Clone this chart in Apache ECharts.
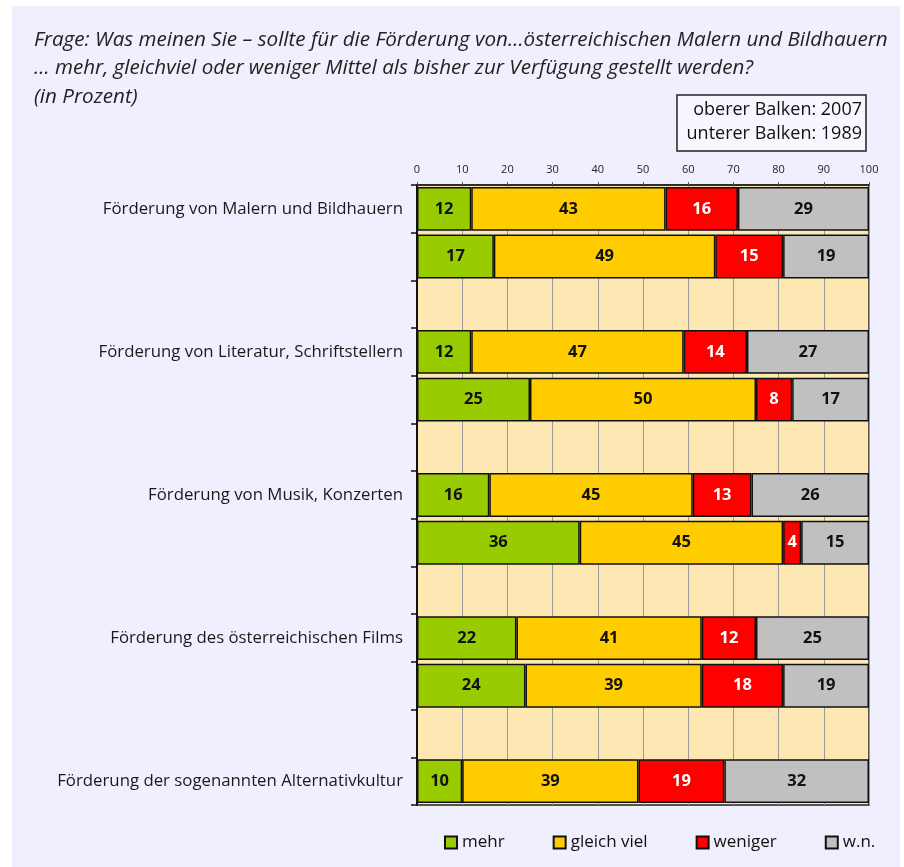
<!DOCTYPE html>
<html><head><meta charset="utf-8">
<script src="https://cdn.jsdelivr.net/npm/echarts@6/dist/echarts.min.js"></script>
<style>html,body{margin:0;padding:0;background:#fff}#c{width:904px;height:867px}</style>
</head><body><div id="c"></div>
<script>
const categories = [
  'Förderung von Malern und Bildhauern', '', '',
  'Förderung von Literatur, Schriftstellern', '', '',
  'Förderung von Musik, Konzerten', '', '',
  'Förderung des österreichischen Films', '', '',
  'Förderung der sogenannten Alternativkultur'
];
const seriesNames = ['mehr', 'gleich viel', 'weniger', 'w.n.'];
const mehr       = [12, 17, null, 12, 25, null, 16, 36, null, 22, 24, null, 10];
const gleichViel = [43, 49, null, 47, 50, null, 45, 45, null, 41, 39, null, 39];
const weniger    = [16, 15, null, 14,  8, null, 13,  4, null, 12, 18, null, 19];
const wn         = [29, 19, null, 27, 17, null, 26, 15, null, 25, 19, null, 32];
const xTicks = [0, 10, 20, 30, 40, 50, 60, 70, 80, 90, 100];
const titleLines = [
  'Frage: Was meinen Sie – sollte für die Förderung von…österreichischen Malern und Bildhauern',
  '… mehr, gleichviel oder weniger Mittel als bisher zur Verfügung gestellt werden?',
  '(in Prozent)'
];
const boxLines = ['oberer Balken: 2007', 'unterer Balken: 1989'];

const FONT = '"Open Sans", sans-serif';
const colors = ['#99CC00', '#FFCC00', '#FF0000', '#C0C0C0'];
const labelColors = ['#111', '#111', '#fff', '#111'];
const values = [mehr, gleichViel, weniger, wn];

const chart = echarts.init(document.getElementById('c'), null, {renderer: 'canvas'});
const graphic = [
  {type: 'rect', z: -10, silent: true, shape: {x: 12, y: 6, width: 888, height: 861}, style: {fill: '#EFEFFD'}}
];
titleLines.forEach((t, i) => graphic.push({
  type: 'text', z: 10,
  style: {text: t, x: 34, y: 40 + i * 28.5, verticalAlign: 'middle', font: 'italic 20.6px ' + FONT, fill: '#222'}
}));
graphic.push({type: 'rect', shape: {x: 677, y: 95, width: 189, height: 56},
  style: {fill: '#F7F7FF', stroke: '#222', lineWidth: 1.5}});
boxLines.forEach((t, i) => graphic.push({
  type: 'text', z: 10, style: {text: t, x: 862, y: 110 + i * 24, align: 'right', verticalAlign: 'middle',
    font: '18px ' + FONT, fill: '#111'}
}));

chart.setOption({
  backgroundColor: '#fff',
  animation: false,
  graphic: graphic,
  textStyle: {fontFamily: FONT},
  grid: {left: 417, top: 185, width: 452, height: 620, show: true,
    backgroundColor: '#FDE8B4', borderColor: '#222', borderWidth: 1.5, containLabel: false},
  legend: {data: seriesNames, top: 829, left: 439, itemWidth: 12, itemHeight: 12, itemGap: 48,
    icon: 'rect', textStyle: {fontSize: 17, color: '#111', fontFamily: FONT}},
  xAxis: {type: 'value', position: 'top', min: xTicks[0], max: xTicks[xTicks.length - 1], interval: 10,
    axisLine: {show: true, lineStyle: {color: '#222', width: 1.5}},
    axisTick: {show: true, length: 3, lineStyle: {color: '#555'}},
    axisLabel: {fontSize: 11, color: '#222', margin: 10},
    splitLine: {show: true, lineStyle: {color: '#999', width: 1}}},
  yAxis: {type: 'category', data: categories, inverse: true,
    axisLine: {show: true, lineStyle: {color: '#111', width: 2}},
    axisTick: {show: true, length: 6, lineStyle: {color: '#111', width: 1.5}},
    axisLabel: {fontSize: 16.8, color: '#1a1a1a', margin: 14}},
  series: seriesNames.map((n, i) => ({
    name: n, type: 'bar', stack: 'all', barCategoryGap: '8%',
    data: values[i],
    itemStyle: {color: colors[i], borderColor: '#111', borderWidth: 1.5},
    label: {show: true, position: 'inside', fontSize: 16.5, fontWeight: 'bold', color: labelColors[i],
      fontFamily: FONT}
  }))
});
</script></body></html>
